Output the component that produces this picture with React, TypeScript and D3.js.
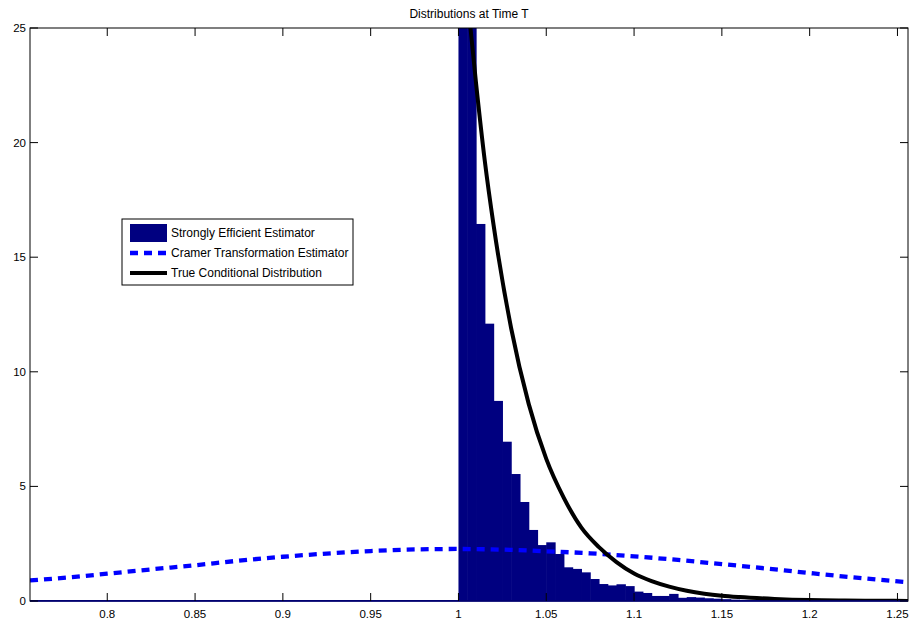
import React from 'react';
import * as d3 from 'd3';

// histogram (bin width 0.005, starting at 1.0)
const binStart = 1.0;
const binWidth = 0.005;
const histValues = [
  48, 31, 16.45, 12.1, 8.73, 6.95, 5.54, 4.32, 3.1, 2.44,
  2.56, 2.05, 1.47, 1.4, 1.25, 0.96, 0.74, 0.68, 0.73, 0.65,
  0.41, 0.35, 0.22, 0.22, 0.31, 0.14, 0.17, 0.15, 0.12, 0.1,
  0.08, 0.06, 0.05, 0.04, 0.03, 0.02, 0.02, 0.01, 0.01,
];

// dashed blue curve
const cramerX = [0.756, 0.78, 0.8, 0.825, 0.85, 0.875, 0.9, 0.925, 0.95, 0.975, 1.0,
  1.025, 1.05, 1.075, 1.1, 1.125, 1.15, 1.175, 1.2, 1.225, 1.256];
const cramerY = [0.9, 1.04, 1.19, 1.38, 1.56, 1.76, 1.93, 2.07, 2.18, 2.25, 2.27,
  2.24, 2.17, 2.08, 1.95, 1.79, 1.61, 1.42, 1.22, 1.03, 0.82];

// black curve
const trueX = [1.005, 1.01, 1.015, 1.02, 1.03, 1.04, 1.05, 1.06, 1.07, 1.08, 1.09,
  1.1, 1.11, 1.12, 1.13, 1.14, 1.15, 1.16, 1.18, 1.2, 1.22, 1.24, 1.256];
const trueY = [26.4, 22.6, 19.2, 16.4, 11.9, 8.6, 6.2, 4.5, 3.2, 2.35, 1.7,
  1.2, 0.87, 0.63, 0.45, 0.32, 0.23, 0.17, 0.09, 0.04, 0.02, 0.01, 0.005];

const xTicks = [0.8, 0.85, 0.9, 0.95, 1, 1.05, 1.1, 1.15, 1.2, 1.25];
const yTicks = [0, 5, 10, 15, 20, 25];
const legendLabels = ['Strongly Efficient Estimator', 'Cramer Transformation Estimator', 'True Conditional Distribution'];

const W = 914, H = 623;
const margin = { left: 30, right: 6, top: 28, bottom: 22 };
const font = '"Liberation Sans", Arial, sans-serif';

export default function App() {
  const x = d3.scaleLinear().domain([0.756, 1.256]).range([margin.left, W - margin.right]);
  const y = d3.scaleLinear().domain([0, 25]).range([H - margin.bottom, margin.top]);

  const line = d3.line<[number, number]>()
    .x((d) => x(d[0]))
    .y((d) => y(d[1]))
    .curve(d3.curveMonotoneX);

  const cramer = cramerX.map((v, i) => [v, cramerY[i]] as [number, number]);
  const truth = trueX.map((v, i) => [v, trueY[i]] as [number, number]);

  const [x0, x1] = x.range();
  const [y0, y1] = y.range();
  const tick = 8;

  return (
    <svg width={W} height={H} style={{ position: 'absolute', left: 0, top: 0, background: '#fff' }}
      fontFamily={font}>
      <defs>
        <clipPath id="plot">
          <rect x={x0} y={y1} width={x1 - x0} height={y0 - y1} />
        </clipPath>
      </defs>
      <rect width={W} height={H} fill="#fff" />
      <text x={(x0 + x1) / 2} y={18} fontSize={12} textAnchor="middle">Distributions at Time T</text>

      <g clipPath="url(#plot)">
        {histValues.map((v, i) => {
          const a = binStart + i * binWidth;
          return (
            <rect key={i} x={x(a)} y={y(v)} width={x(a + binWidth) - x(a) + 0.6} height={y(0) - y(v)}
              fill="#000080" />
          );
        })}
        <line x1={x0} x2={x1} y1={y(0)} y2={y(0)} stroke="#000080" strokeWidth={2} />
        <path d={line(cramer) || ''} fill="none" stroke="#0000ff" strokeWidth={4.3} strokeDasharray="8,6" />
        <path d={line(truth) || ''} fill="none" stroke="#000" strokeWidth={4} />
      </g>

      {/* axes box */}
      <rect x={x0} y={y1} width={x1 - x0} height={y0 - y1} fill="none" stroke="#000" strokeWidth={1} />
      <line x1={x0} x2={x1} y1={y0} y2={y0} stroke="#000080" strokeWidth={1.5} />
      {xTicks.map((t) => (
        <g key={t}>
          <line x1={x(t)} x2={x(t)} y1={y0} y2={y0 - tick} stroke="#000" />
          <line x1={x(t)} x2={x(t)} y1={y1} y2={y1 + tick} stroke="#000" />
          <text x={x(t)} y={y0 + 17} fontSize={11.5} textAnchor="middle">{t}</text>
        </g>
      ))}
      {yTicks.map((t) => (
        <g key={t}>
          <line x1={x0} x2={x0 + tick} y1={y(t)} y2={y(t)} stroke="#000" />
          <line x1={x1} x2={x1 - tick} y1={y(t)} y2={y(t)} stroke="#000" />
          <text x={x0 - 4} y={y(t) + 4} fontSize={11.5} textAnchor="end">{t}</text>
        </g>
      ))}

      {/* legend */}
      <g transform="translate(122,219)">
        <rect width={231} height={66} fill="#fff" stroke="#000" strokeWidth={1} />
        <rect x={8} y={5} width={37} height={18} fill="#000080" />
        <line x1={8} x2={45} y1={34} y2={34} stroke="#0000ff" strokeWidth={4.3} strokeDasharray="8,6" />
        <line x1={8} x2={45} y1={54} y2={54} stroke="#000" strokeWidth={4} />
        {legendLabels.map((l, i) => (
          <text key={l} x={49} y={18 + i * 20} fontSize={12}>{l}</text>
        ))}
      </g>
    </svg>
  );
}
